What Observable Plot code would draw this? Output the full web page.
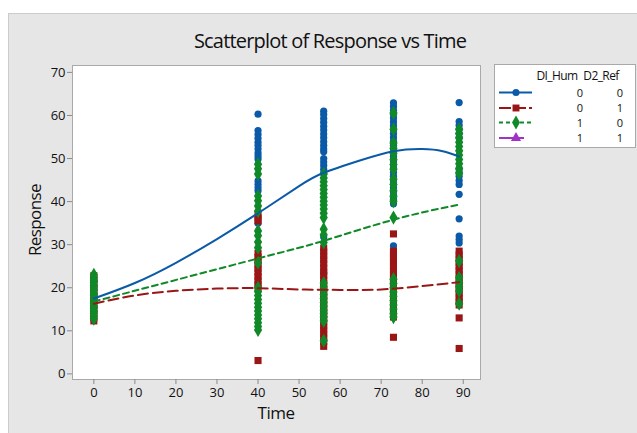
<!DOCTYPE html>
<html><head><meta charset="utf-8">
<script src="https://cdn.jsdelivr.net/npm/d3@7"></script>
<script src="https://cdn.jsdelivr.net/npm/@observablehq/plot@0.6"></script>
<style>
body{margin:0;background:#fff;font-family:"Open Sans",sans-serif;}
#wrap{position:relative;width:637px;height:433px;overflow:hidden;}
#panel{position:absolute;left:8px;top:13px;width:640px;height:430px;background:#e6e6e6;border:1px solid #cccccc;}
#title{position:absolute;left:130px;width:400px;top:29px;text-align:center;font-size:20px;letter-spacing:-0.8px;color:#111;line-height:24px;}
#xlab{position:absolute;left:176px;width:200px;top:402px;text-align:center;font-size:17px;letter-spacing:-0.5px;color:#111;line-height:22px;}
#ylab{position:absolute;left:-65px;width:200px;top:209px;text-align:center;font-size:17px;letter-spacing:-0.6px;color:#111;line-height:22px;transform:rotate(-90deg);}
#chart{position:absolute;left:0;top:0;}
#legend{position:absolute;left:0;top:0;}
</style></head>
<body>
<div id="wrap">
  <div id="panel"></div>
  <div id="title">Scatterplot of Response vs Time</div>
  <div id="chart"></div>
  <div id="xlab">Time</div>
  <div id="ylab">Response</div>
  <svg id="legend" width="637" height="433"></svg>
</div>
<script>
// ---- data ----
const times = [0, 40, 56, 73, 89];

// D1_Hum = 0, D2_Ref = 0
const hum0ref0 = [
  [14.5, 15.5, 16.5, 17.5, 18.5, 19.5, 20.5, 21.5],
  [60.3, 56.5, 55.6, 54.7, 53.8, 53, 52.2, 51.3, 50.6, 49.9, 44.8, 44, 43.2, 42.5, 35],
  [61, 60.2, 59.3, 58.4, 57.5, 56.6, 55.7, 54.8, 53.9, 53, 52.2, 51.6, 50, 49.2, 48.4, 47.5, 46.6, 31.8, 23.4],
  [62.9, 62.1, 61.2, 60.3, 59.4, 58.5, 57.6, 56.7, 55.8, 54.9, 54, 53.1, 52.2, 51.3, 50.4, 49.5, 48.6, 47.7, 46.8, 45.9, 45, 44.1, 43.2, 42.3, 41.4, 40.5, 39.5, 29.7],
  [63, 58.6, 57.7, 56.8, 55.8, 54.8, 47.7, 46.8, 45.9, 44.9, 44, 41.7, 36, 32, 31.2, 30.4]
];
// D1_Hum = 0, D2_Ref = 1
const hum0ref1 = [
  [12.3, 13, 14, 15, 16, 17, 18, 19, 20, 21, 22, 22.8],
  [37, 36.2, 35.5, 28, 27.1, 26.2, 25.3, 24.4, 23.5, 22.6, 21.7, 20.8, 20, 3.1],
  [29.2, 28.3, 27.4, 26.5, 25.6, 24.6, 23.7, 22.8, 21.9, 21, 20.1, 19.2, 18.3, 17.4, 16.5, 15.6, 14.7, 13.8, 12.9, 12, 11.1, 10.2, 9.3, 8.4, 7.5, 6.4],
  [32.5, 28.5, 27.6, 26.7, 25.8, 24.9, 24, 23.1, 22.2, 21.3, 20.4, 19.5, 18.6, 17.7, 16.8, 15.9, 15, 14.1, 13.2, 8.5],
  [28.5, 27.6, 26.7, 25.8, 24.9, 24, 23.1, 22.2, 21.3, 20.4, 19.5, 18.6, 17.7, 16.8, 16, 13, 5.9]
];
// D1_Hum = 1, D2_Ref = 0
const hum1ref0 = [
  [12.8, 13.4, 14, 14.6, 15.2, 15.8, 16.4, 17, 17.6, 18.2, 18.8, 19.4, 20, 20.6, 21.2, 21.8, 22.4, 23],
  [48.7, 47.6, 46.4, 41.3, 40.2, 39, 37.8, 33.2, 32.1, 30.6, 29.3, 25.8, 20, 19.1, 18.2, 17.3, 16.4, 15.5, 14.6, 13.7, 12.8, 11.9, 11, 10.2],
  [46.4, 45.5, 44.6, 43.7, 42.8, 41.9, 41, 40.1, 39.2, 38.3, 37.3, 36.3, 33.6, 32.3, 30.5, 21.1, 20.2, 19.3, 18.4, 17.5, 16.6, 15.7, 14.8, 14, 13.2, 12.3, 7.7],
  [60.6, 56.8, 53.6, 52.4, 51.2, 49.8, 48.6, 47.5, 45.2, 44, 42.5, 41.2, 40.1, 36.3, 22, 21, 20, 19, 18, 17, 16, 15, 14, 13.2],
  [56.8, 55.8, 54.8, 53.8, 52.8, 51.8, 50.8, 49.8, 48.8, 47.6, 46.6, 26.2, 22.3, 21.3, 20.3, 19.3, 16.3]
];
// D1_Hum = 1, D2_Ref = 1 (no observations)
const hum1ref1 = [[], [], [], [], []];

// fitted smoother values
const fitTimesBlue = [0, 10, 20, 30, 40, 50, 56, 65, 73, 80, 85, 89];
const fitBlue = [17.5, 21.1, 25.8, 31.3, 37.3, 43.6, 46.7, 49.6, 51.7, 52.2, 51.7, 50.5];
const fitTimesRed = [0, 10, 20, 30, 40, 50, 60, 70, 80, 89];
const fitRed = [16.3, 18.2, 19.3, 19.8, 19.9, 19.6, 19.5, 19.6, 20.4, 21.3];
const fitTimesGreen = [0, 40, 56, 73, 89];
const fitGreen = [16.8, 26.8, 30.9, 35.8, 39.3];

const legendHeader = ["DI_Hum", "D2_Ref"];
const legendRows = [["0", "0"], ["0", "1"], ["1", "0"], ["1", "1"]];

const xTicks = [0, 10, 20, 30, 40, 50, 60, 70, 80, 90];
const yTicks = [0, 10, 20, 30, 40, 50, 60, 70];

// ---- styles ----
const C = {blue: "#0b5aa8", red: "#9a1515", green: "#108a28", purple: "#a032c8"};

const rows = vals => times.flatMap((t, i) => vals[i].map(v => ({time: t, response: v})));
const fit = (ts, vs) => ts.map((t, i) => ({time: t, response: vs[i]}));

const plot = Plot.plot({
  width: 637, height: 433,
  marginLeft: 72, marginRight: 157, marginTop: 65, marginBottom: 54,
  style: {background: "transparent", overflow: "visible", fontFamily: "Open Sans", fontSize: "13px"},
  x: {domain: [-5.2, 94.2]},
  y: {domain: [-1.3, 71.6]},
  marks: [
    Plot.frame({fill: "white", stroke: "#a9a9a9"}),
    Plot.axisX({ticks: xTicks, tickSize: 5, tickPadding: 3, stroke: "#8a8a8a", fill: "#111", label: null, fontSize: 13}),
    Plot.axisY({ticks: yTicks, tickSize: 5, tickPadding: 2, stroke: "#8a8a8a", fill: "#111", label: null, fontSize: 13}),
    Plot.dot(rows(hum0ref0), {x: "time", y: "response", symbol: "circle", r: 3.6, fill: C.blue, stroke: null}),
    Plot.dot(rows(hum0ref1), {x: "time", y: "response", symbol: "square", r: 4, fill: C.red, stroke: null}),
    Plot.dot(rows(hum1ref0), {x: "time", y: "response", symbol: "diamond", r: 4.3, fill: C.green, stroke: null}),
    Plot.dot(rows(hum1ref1), {x: "time", y: "response", symbol: "triangle", r: 4, fill: C.purple, stroke: null}),
    Plot.line(fit(fitTimesBlue, fitBlue), {x: "time", y: "response", stroke: C.blue, strokeWidth: 2, curve: "natural"}),
    Plot.line(fit(fitTimesRed, fitRed), {x: "time", y: "response", stroke: C.red, strokeWidth: 2, strokeDasharray: "10,5", curve: "natural"}),
    Plot.line(fit(fitTimesGreen, fitGreen), {x: "time", y: "response", stroke: C.green, strokeWidth: 2, strokeDasharray: "6,4", curve: "natural"})
  ]
});
document.getElementById("chart").appendChild(plot);

// ---- legend ----
const lg = d3.select("#legend");
lg.append("rect").attr("x", 494.5).attr("y", 64.5).attr("width", 141).attr("height", 83)
  .attr("fill", "white").attr("stroke", "#a9a9a9");
lg.append("text").attr("x", 557).attr("y", 80).attr("text-anchor", "middle")
  .attr("font-size", 12).attr("letter-spacing", -0.6).attr("fill", "#111").text(legendHeader[0]);
lg.append("text").attr("x", 601).attr("y", 80).attr("text-anchor", "middle")
  .attr("font-size", 12).attr("letter-spacing", -0.6).attr("fill", "#111").text(legendHeader[1]);
const ys = [92.5, 108, 122.5, 138];
const sty = [
  {c: C.blue, dash: null, sym: d3.symbolCircle, size: 40},
  {c: C.red, dash: "12,3", sym: d3.symbolSquare, size: 48},
  {c: C.green, dash: "4,3", sym: d3.symbolDiamond, size: 55},
  {c: C.purple, dash: "14,6,5,10", sym: d3.symbolTriangle, size: 45}
];
legendRows.forEach((r, i) => {
  const y = ys[i], s = sty[i];
  const ln = lg.append("line").attr("x1", 499).attr("x2", 532).attr("y1", y).attr("y2", y)
    .attr("stroke", s.c).attr("stroke-width", 2);
  if (s.dash) ln.attr("stroke-dasharray", s.dash);
  lg.append("path").attr("d", d3.symbol(s.sym, s.size)()).attr("transform", `translate(516,${y})`).attr("fill", s.c);
  lg.append("text").attr("x", 583).attr("y", y + 4).attr("text-anchor", "end").attr("font-size", 11).attr("fill", "#111").text(r[0]);
  lg.append("text").attr("x", 623).attr("y", y + 4).attr("text-anchor", "end").attr("font-size", 11).attr("fill", "#111").text(r[1]);
});
</script>
</body></html>
